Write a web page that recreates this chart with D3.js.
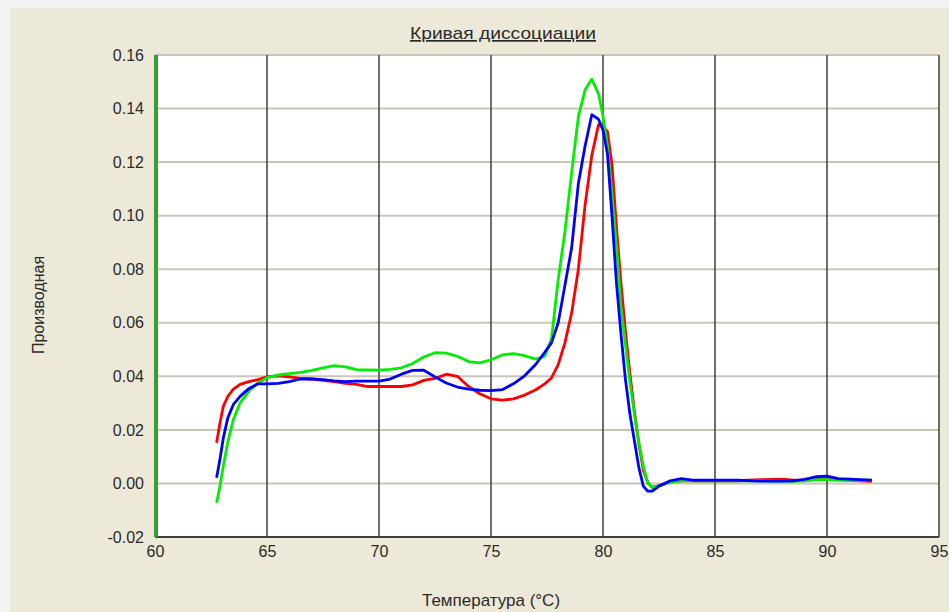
<!DOCTYPE html>
<html>
<head>
<meta charset="utf-8">
<script src="https://cdn.jsdelivr.net/npm/d3@7"></script>
<style>
	html, body { margin: 0; padding: 0; background: #f2f2f2; }
	#chart { width: 949px; height: 612px; }
	text { font-family: "Liberation Sans", Arial, sans-serif; fill: #2a2a2a; }
</style>
</head>
<body>
<div id="chart"></div>
<script>
// temperature points (°C) shared by the three curves
const temps = [62.75, 62.9, 63.05, 63.25, 63.5, 63.8, 64.2, 64.6, 65.0, 65.5,
	66.0, 66.5, 67.0, 67.5, 68.0, 68.5, 69.0, 69.5, 70.0, 70.5,
	71.0, 71.5, 72.0, 72.5, 73.0, 73.5, 74.0, 74.5, 75.0, 75.5,
	76.0, 76.5, 77.0, 77.4, 77.7, 78.0, 78.3, 78.6, 78.9, 79.2,
	79.5, 79.8, 80.0, 80.2, 80.4, 80.6, 80.8, 81.0, 81.2, 81.4,
	81.6, 81.8, 82.0, 82.2, 82.5, 83.0, 83.5, 84.0, 85.0, 86.0,
	87.0, 88.0, 88.5, 89.0, 89.5, 90.0, 90.5, 91.0, 91.5, 92.0];

const redValues = [0.0152, 0.0226, 0.0288, 0.0325, 0.0352, 0.0370, 0.0380, 0.0388, 0.0398, 0.0402,
	0.0398, 0.0392, 0.0390, 0.0385, 0.0380, 0.0374, 0.0370, 0.0362, 0.0362, 0.0362,
	0.0362, 0.0368, 0.0385, 0.0392, 0.0408, 0.0400, 0.0362, 0.0335, 0.0316, 0.0311,
	0.0316, 0.0330, 0.0350, 0.0372, 0.0394, 0.0444, 0.0525, 0.0637, 0.0800, 0.1040,
	0.1225, 0.1340, 0.1330, 0.1315, 0.1190, 0.0960, 0.0750, 0.0570, 0.0413, 0.0270,
	0.0150, 0.0050, 0.0003, -0.0015, -0.0008, 0.0005, 0.0010, 0.0010, 0.0010, 0.0010,
	0.0014, 0.0016, 0.0012, 0.0012, 0.0015, 0.0018, 0.0015, 0.0012, 0.0010, 0.0008];

const greenValues = [-0.0072, -0.0010, 0.0065, 0.0155, 0.0239, 0.0301, 0.0345, 0.0375, 0.0395, 0.0405,
	0.0410, 0.0415, 0.0422, 0.0432, 0.0440, 0.0435, 0.0425, 0.0424, 0.0423, 0.0426,
	0.0432, 0.0448, 0.0472, 0.0488, 0.0487, 0.0475, 0.0455, 0.0450, 0.0462, 0.0480,
	0.0485, 0.0477, 0.0464, 0.0475, 0.0540, 0.0761, 0.0940, 0.1160, 0.1370, 0.1470,
	0.1510, 0.1455, 0.1370, 0.1260, 0.1080, 0.0890, 0.0662, 0.0520, 0.0380, 0.0260,
	0.0150, 0.0065, 0.0000, -0.0015, -0.0008, 0.0005, 0.0010, 0.0010, 0.0010, 0.0010,
	0.0010, 0.0009, 0.0008, 0.0010, 0.0014, 0.0014, 0.0012, 0.0012, 0.0012, 0.0012];

const blueValues = [0.0021, 0.0090, 0.0170, 0.0245, 0.0295, 0.0325, 0.0355, 0.0372, 0.0372, 0.0374,
	0.0380, 0.0390, 0.0390, 0.0388, 0.0383, 0.0380, 0.0382, 0.0382, 0.0382, 0.0390,
	0.0408, 0.0422, 0.0423, 0.0398, 0.0375, 0.0360, 0.0352, 0.0348, 0.0347, 0.0350,
	0.0372, 0.0402, 0.0445, 0.0490, 0.0525, 0.0600, 0.0740, 0.0880, 0.1120, 0.1260,
	0.1377, 0.1360, 0.1320, 0.1230, 0.1000, 0.0750, 0.0560, 0.0390, 0.0260, 0.0160,
	0.0060, -0.0010, -0.0029, -0.0029, -0.0010, 0.0010, 0.0018, 0.0012, 0.0012, 0.0012,
	0.0009, 0.0009, 0.0010, 0.0015, 0.0025, 0.0027, 0.0018, 0.0016, 0.0014, 0.0012];

const xTicks = [60, 65, 70, 75, 80, 85, 90, 95];
const yTicks = [-0.02, 0, 0.02, 0.04, 0.06, 0.08, 0.10, 0.12, 0.14, 0.16];

const seriesList = [
	{ name: 'red', values: redValues, color: '#ff0000' },
	{ name: 'green', values: greenValues, color: '#00ee00' },
	{ name: 'blue', values: blueValues, color: '#0000ff' }
];

const width = 949, height = 612;
const margin = { top: 55, right: 10, bottom: 75, left: 155 };

const svg = d3.select('#chart').append('svg')
	.attr('width', width)
	.attr('height', height);

// beige panel behind everything
svg.append('rect')
	.attr('x', 10).attr('y', 8)
	.attr('width', width - 10).attr('height', height - 8)
	.attr('fill', '#ece9d8');

const x = d3.scaleLinear().domain([60, 95]).range([margin.left, width - margin.right]);
const y = d3.scaleLinear().domain([-0.02, 0.16]).range([height - margin.bottom, margin.top]);

// plot background
svg.append('rect')
	.attr('x', x(60)).attr('y', y(0.16))
	.attr('width', x(95) - x(60)).attr('height', y(-0.02) - y(0.16))
	.attr('fill', '#ffffff');

// horizontal grid (light)
svg.append('g').selectAll('line')
	.data(yTicks)
	.join('line')
	.attr('x1', x(60)).attr('x2', x(95))
	.attr('y1', d => y(d)).attr('y2', d => y(d))
	.attr('stroke', '#c9c4b6')
	.attr('stroke-width', 2);

// vertical grid (dark)
svg.append('g').selectAll('line')
	.data(xTicks.slice(1))
	.join('line')
	.attr('x1', d => x(d)).attr('x2', d => x(d))
	.attr('y1', y(0.16)).attr('y2', y(-0.02))
	.attr('stroke', '#3f3f3f')
	.attr('stroke-width', 1.5);

// bottom border
svg.append('line')
	.attr('x1', x(60)).attr('x2', x(95))
	.attr('y1', y(-0.02)).attr('y2', y(-0.02))
	.attr('stroke', '#3f3f3f')
	.attr('stroke-width', 2);

// green left axis bar
svg.append('line')
	.attr('x1', x(60) + 1).attr('x2', x(60) + 1)
	.attr('y1', y(0.16)).attr('y2', y(-0.02))
	.attr('stroke', '#35a035')
	.attr('stroke-width', 4);

// tick labels via d3 axes (no domain/ticks)
const xAxis = svg.append('g')
	.attr('transform', `translate(0, ${y(-0.02) + 6})`)
	.call(d3.axisBottom(x).tickValues(xTicks).tickFormat(d3.format('d')).tickSize(0));
xAxis.select('.domain').remove();
xAxis.selectAll('text')
	.style('font-family', '"Liberation Sans", Arial, sans-serif')
	.style('font-size', '16px')
	.attr('fill', '#2a2a2a');

const yAxis = svg.append('g')
	.attr('transform', `translate(${x(60) - 8}, 0)`)
	.call(d3.axisLeft(y).tickValues(yTicks).tickFormat(d => d.toFixed(2)).tickSize(0));
yAxis.select('.domain').remove();
yAxis.selectAll('text')
	.style('font-family', '"Liberation Sans", Arial, sans-serif')
	.style('font-size', '16px')
	.attr('fill', '#2a2a2a');

// curves
const line = d3.line()
	.x((d, i) => x(temps[i]))
	.y(d => y(d));

svg.append('g').selectAll('path')
	.data(seriesList)
	.join('path')
	.attr('d', d => line(d.values))
	.attr('fill', 'none')
	.attr('stroke', d => d.color)
	.attr('stroke-width', 2.8)
	.attr('stroke-linejoin', 'round');

// title
svg.append('text')
	.attr('x', 503).attr('y', 39)
	.attr('text-anchor', 'middle')
	.attr('textLength', 186)
	.attr('lengthAdjust', 'spacingAndGlyphs')
	.style('font-size', '17px')
	.style('text-decoration', 'underline')
	.text('Кривая диссоциации');

svg.append('text')
	.attr('transform', 'translate(44, 305) rotate(-90)')
	.attr('text-anchor', 'middle')
	.style('font-size', '16px')
	.text('Производная');

svg.append('text')
	.attr('x', 491).attr('y', 606)
	.attr('text-anchor', 'middle')
	.style('font-size', '17px')
	.text('Температура (°C)');
</script>
</body>
</html>
